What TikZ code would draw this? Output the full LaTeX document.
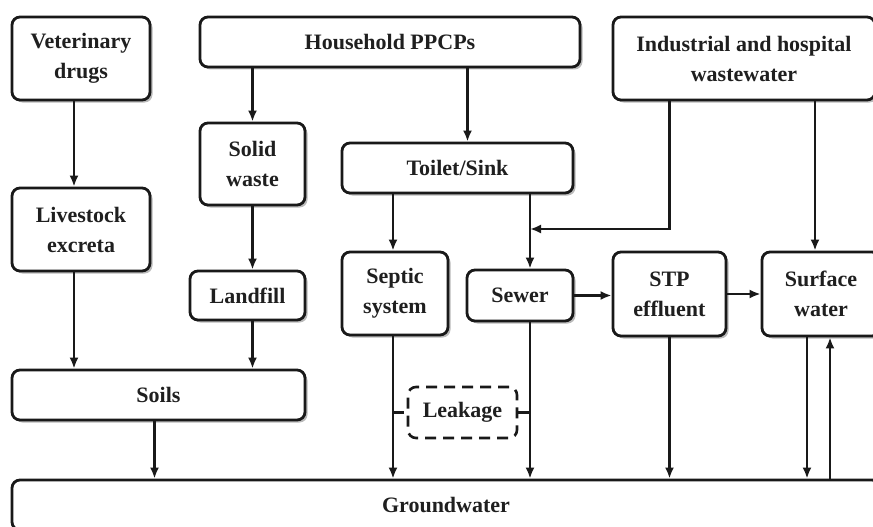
\documentclass[tikz,border=0pt]{standalone}
\usepackage{fontspec}
\setmainfont{Liberation Serif}
\usetikzlibrary{arrows.meta,shadows,calc}
\begin{document}
\begin{tikzpicture}[x=1pt,y=-1pt]
\tikzset{
 box/.style={draw=black!90, line width=2.8pt, rounded corners=8pt, fill=white, align=center, inner sep=0pt,
   font=\bfseries\fontsize{22}{30}\selectfont, text=black!88,
   drop shadow={shadow xshift=2.5pt, shadow yshift=-2.5pt, fill=black!45, opacity=0.6}},
 arr/.style={draw=black!90, line width=2.4pt, -{Latex[length=11pt,width=9pt]}},
 leakbox/.style={draw=black!90, line width=2.6pt, dash pattern=on 11pt off 7pt, rounded corners=8pt, fill=white,
   inner sep=0pt, font=\bfseries\fontsize{22}{30}\selectfont, text=black!88},
 leakline/.style={draw=black!90, line width=2.4pt, dash pattern=on 11pt off 7pt},
}
\useasboundingbox (0,0) rectangle (873,527);
\clip (0,0) rectangle (873,527);
\fill[white] (0,0) rectangle (873,527);

\node[box, minimum width=138pt, minimum height=83pt] (vet) at (81,58.5) {Veterinary\\drugs};
\node[box, minimum width=138pt, minimum height=83pt] (live) at (81,229.5) {Livestock\\excreta};
\node[box, minimum width=380pt, minimum height=50pt] (hh) at (390,42) {Household PPCPs};
\node[box, minimum width=105pt, minimum height=82pt] (solid) at (252.5,164) {Solid\\waste};
\node[box, minimum width=115pt, minimum height=49pt] (land) at (247.5,295.5) {Landfill};
\node[box, minimum width=293pt, minimum height=50pt] (soils) at (158.5,395) {Soils};
\node[box, minimum width=231pt, minimum height=50pt] (toilet) at (457.5,168) {Toilet/Sink};
\node[box, minimum width=106pt, minimum height=83pt] (septic) at (395,293.5) {Septic\\system};
\node[box, minimum width=106pt, minimum height=51pt] (sewer) at (520,295.5) {Sewer};
\node[box, minimum width=262pt, minimum height=83pt] (ind) at (744,58.5) {Industrial and hospital\\wastewater};
\node[box, minimum width=113pt, minimum height=84pt] (stp) at (669.5,294) {STP\\effluent};
\node[box, minimum width=118pt, minimum height=84pt] (surf) at (821,294) {Surface\\water};
\node[box, minimum width=868pt, minimum height=50pt] (ground) at (446,505) {Groundwater};
\node[leakbox, minimum width=109pt, minimum height=51pt] (leak) at (462.5,412.5) {Leakage};

\coordinate (j) at (530,229);

% left column
\draw[arr] ([xshift=-7pt]vet.south) -- ([xshift=-7pt]live.north);
\draw[arr] ([xshift=-7pt]live.south) -- ([xshift=-7pt]live.south |- soils.north);
\draw[arr] (solid.north |- hh.south) -- (solid.north);
\draw[arr] (solid.south) -- (solid.south |- land.north);
\draw[arr] (solid.south |- land.south) -- (solid.south |- soils.north);
\draw[arr] ([xshift=-4pt]soils.south) -- ([xshift=-4pt]soils.south |- ground.north);

% middle
\draw[arr] ([xshift=10pt]toilet.north |- hh.south) -- ([xshift=10pt]toilet.north);
\draw[arr] ([xshift=-2pt]septic.north |- toilet.south) -- ([xshift=-2pt]septic.north);
\draw[arr] ([xshift=10pt]sewer.north |- toilet.south) -- ([xshift=10pt]sewer.north);
\draw[arr] (ind.south -| stp.north) |- (j);
\draw[arr] ([xshift=-6pt]surf.north |- ind.south) -- ([xshift=-6pt]surf.north);
\draw[arr] (sewer.east) -- (sewer.east -| stp.west);
\draw[arr] (stp.east) -- (stp.east -| surf.west);

% to groundwater
\draw[arr] ([xshift=-2pt]septic.south) -- ([xshift=-2pt]septic.south |- ground.north);
\draw[arr] ([xshift=10pt]sewer.south) -- ([xshift=10pt]sewer.south |- ground.north);
\draw[arr] (stp.south) -- (stp.south |- ground.north);
\draw[arr] ([xshift=-14pt]surf.south) -- ([xshift=-14pt]surf.south |- ground.north);
\draw[arr] ([xshift=9pt]surf.south |- ground.north) -- ([xshift=9pt]surf.south);

% leakage
\draw[leakline] (leak.west -| septic.south) ++(-2pt,0) -- (leak.west);
\draw[leakline] (leak.east) -- (leak.east -| j);
\end{tikzpicture}
\end{document}
